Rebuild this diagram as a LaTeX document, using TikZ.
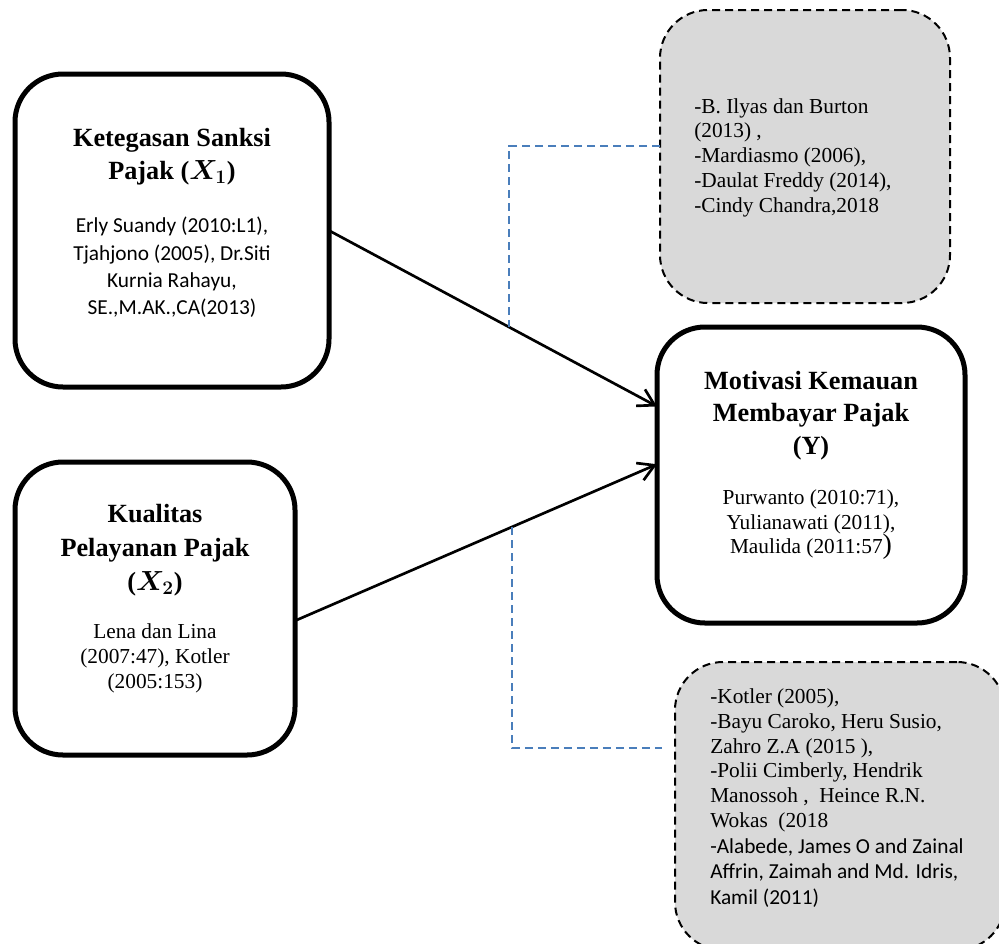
\documentclass[tikz,border=0pt]{standalone}
\usepackage{fontspec}
\setmainfont{Liberation Serif}
\newfontfamily\calibri{Carlito}
\usepackage{amsmath,bm}
\usetikzlibrary{arrows.meta}
\definecolor{boxgray}{HTML}{D9D9D9}
\definecolor{linkblue}{HTML}{4A7EBB}
\begin{document}
\begin{tikzpicture}[x=0.75pt,y=-0.75pt,
  mainbox/.style={draw, line width=3.75pt, rounded corners=36pt, inner sep=0pt, outer sep=0pt, fill=white},
  refbox/.style={draw, line width=1.5pt, dash pattern=on 6pt off 3.75pt, rounded corners=36pt, fill=boxgray, inner sep=0pt, outer sep=0pt},
  titletext/.style={align=center, inner sep=0pt, font=\fontsize{19.7}{24.6}\selectfont\bfseries},
  calbody/.style={align=center, inner sep=0pt, font=\calibri\fontsize{16}{20.5}\selectfont},
  timesbody/.style={align=center, inner sep=0pt, font=\fontsize{16}{18.4}\selectfont},
  reftext/.style={anchor=west, align=left, inner sep=0pt, font=\fontsize{16}{18.6}\selectfont},
  arrowline/.style={line width=2pt, -{Straight Barb[length=12pt,width=14pt]}},
  linkline/.style={draw=linkblue, line width=1.5pt, dash pattern=on 6pt off 3.75pt}]
\useasboundingbox (0,0) rectangle (999,943);
\clip (0,0) rectangle (999,943);

% independent variable X1
\node[mainbox, minimum width=235.5pt, minimum height=234.75pt] (x1box) at (172,230.5) {};
\node[titletext] (x1title) at (172,156.5) {Ketegasan Sanksi\\Pajak ($\bm{X_1}$)};
\node[calbody] (x1refs) at (172,267.5) {Erly Suandy (2010:L1),\\Tjahjono (2005), Dr.Siti\\Kurnia Rahayu,\\SE.,M.AK.,CA(2013)};

% dependent variable Y
\node[mainbox, minimum width=231pt, minimum height=222pt] (ybox) at (811,475) {};
\node[titletext] (ytitle) at (811,415.5) {Motivasi Kemauan\\Membayar Pajak\\(Y)};
\node[timesbody] (yrefs) at (811,525) {Purwanto (2010:71),\\Yulianawati (2011),\\Maulida (2011:57{\fontsize{21}{18}\selectfont)}};

% independent variable X2
\node[mainbox, minimum width=210pt, minimum height=219.75pt] (x2box) at (155,608.5) {};
\node[titletext, font=\fontsize{19.7}{25.5}\selectfont\bfseries] (x2title) at (155,550) {Kualitas\\Pelayanan Pajak\\($\bm{X_2}$)};
\node[timesbody, font=\fontsize{16}{18.75}\selectfont] (x2refs) at (155,658) {Lena dan Lina\\(2007:47), Kotler\\(2005:153)};

% reference boxes
\node[refbox, minimum width=217.5pt, minimum height=219.75pt] (tgray) at (805,156.5) {};
\node[reftext] (tgraytext) at (694,157.5) {-B. Ilyas dan Burton\\(2013) ,\\-Mardiasmo (2006),\\-Daulat Freddy (2014),\\-Cindy Chandra,2018};

\node[refbox, minimum width=247.5pt, minimum height=216pt] (bgray) at (840,806) {};
\node[reftext] (bgraytext) at (710,798) {-Kotler (2005),\\-Bayu Caroko, Heru Susio,\\Zahro Z.A (2015 ),\\-Polii Cimberly, Hendrik\\Manossoh ,\ \ Heince R.N.\\Wokas\ \ (2018\\[0.6pt]{\calibri -Alabede, James O and Zainal}\\[0.6pt]{\calibri Affrin, Zaimah and Md. Idris,}\\[0.6pt]{\calibri Kamil (2011)}};

% arrows
\draw[arrowline] (x1box.east) -- coordinate[pos=0.549] (p1) (ybox.156.5);
\draw[arrowline] (x2box.-5.9) -- coordinate[pos=0.599] (p2) (ybox.176.3);

% dashed links
\draw[linkline] (tgray.176.6) -| (p1);
\coordinate (c2) at (662,748);
\draw[linkline] (p2) |- (c2);
\end{tikzpicture}
\end{document}
